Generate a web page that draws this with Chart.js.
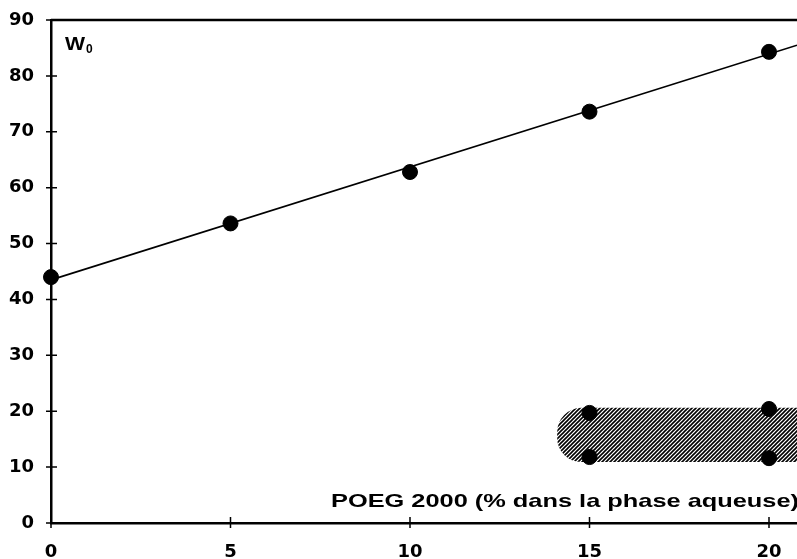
<!DOCTYPE html>
<html>
<head>
<meta charset="utf-8">
<script src="https://cdn.jsdelivr.net/npm/chart.js@4/dist/chart.umd.min.js"></script>
<style>
  body { margin: 0; background: #fff; }
  canvas { display: block; }
</style>
</head>
<body>
<canvas id="grafico" width="797" height="559"></canvas>
<script>
// valeurs
var poegX = [0, 5, 10, 15, 20];
var w0Y = [44.0, 53.6, 62.8, 73.6, 84.3];
var basX = [15, 15, 20, 20];
var basY = [19.7, 11.8, 20.4, 11.6];
var droiteX = [0, 20.78];
var droiteY = [43.5, 85.5];
var zoneX = [14.1, 20.78];
var zoneY = [10.9, 20.6];
var ticksX = [0, 5, 10, 15, 20];
var ticksY = [0, 10, 20, 30, 40, 50, 60, 70, 80, 90];

var police = "'Liberation Sans', Arial, sans-serif";
var policeLarge = "'DejaVu Sans', sans-serif";

function paires(xs, ys) {
    return xs.map(function (x, i) { return { x: x, y: ys[i] }; });
}

function motifHachure() {
    var c = document.createElement("canvas");
    c.width = 4; c.height = 4;
    var g = c.getContext("2d");
    g.strokeStyle = "#000";
    g.lineWidth = 1.6;
    g.beginPath();
    g.moveTo(-1, 5); g.lineTo(5, -1);
    g.moveTo(-1, 1); g.lineTo(1, -1);
    g.moveTo(3, 5); g.lineTo(5, 3);
    g.stroke();
    return g.createPattern(c, "repeat");
}

// texte elargi horizontalement (la police d'origine est tres large)
function texteLarge(ctx, txt, x, y, etir) {
    ctx.save();
    ctx.translate(x, y);
    ctx.scale(etir, 1);
    ctx.fillText(txt, 0, 0);
    ctx.restore();
}

var decor = {
    id: "decor",
    beforeDatasetsDraw: function (chart) {
        var ctx = chart.ctx, sx = chart.scales.x, sy = chart.scales.y;
        // zone hachuree
        var x0 = sx.getPixelForValue(zoneX[0]), x1 = sx.getPixelForValue(zoneX[1]);
        var y0 = sy.getPixelForValue(zoneY[1]), y1 = sy.getPixelForValue(zoneY[0]);
        ctx.save();
        ctx.fillStyle = motifHachure();
        ctx.beginPath();
        ctx.roundRect(x0, y0, x1 - x0 + 5, y1 - y0, [24, 0, 0, 24]);
        ctx.fill();
        ctx.restore();
    },
    afterDraw: function (chart) {
        var ctx = chart.ctx, a = chart.chartArea, sx = chart.scales.x, sy = chart.scales.y;
        ctx.save();
        ctx.strokeStyle = "#000";
        // cadre haut
        ctx.lineWidth = 2.5;
        ctx.beginPath();
        ctx.moveTo(a.left, a.top); ctx.lineTo(a.right + 2, a.top);
        ctx.stroke();
        // graduations qui traversent les axes
        ctx.lineWidth = 1.5;
        ctx.beginPath();
        ticksY.forEach(function (v) {
            var y = sy.getPixelForValue(v);
            ctx.moveTo(a.left - 5, y); ctx.lineTo(a.left + 6, y);
        });
        ticksX.forEach(function (v) {
            var x = sx.getPixelForValue(v);
            ctx.moveTo(x, a.bottom - 6); ctx.lineTo(x, a.bottom + 5);
        });
        ctx.stroke();
        // textes
        ctx.fillStyle = "#000";
        ctx.textBaseline = "alphabetic";
        ctx.textAlign = "left";
        ctx.font = "bold 18px " + police;
        var wW = ctx.measureText("W").width * 1.18;
        texteLarge(ctx, "W", a.left + 14, a.top + 30, 1.18);
        ctx.font = "bold 12px " + police;
        ctx.fillText("0", a.left + 15 + wW, a.top + 33);
        ctx.font = "bold 19px " + police;
        var titre = "POEG 2000 (% dans la phase aqueuse)";
        var etir = 468 / ctx.measureText(titre).width;
        texteLarge(ctx, titre, a.right - 466, a.bottom - 16, etir);
        ctx.restore();
    }
};

new Chart(grafico.getContext("2d"), {
    type: "scatter",
    data: {
        datasets: [{
            type: "line",
            data: paires(droiteX, droiteY),
            borderColor: "#000",
            borderWidth: 1.6,
            pointRadius: 0,
            fill: false,
            clip: false
        }, {
            data: paires(poegX, w0Y),
            backgroundColor: "#000",
            borderColor: "#000",
            pointRadius: 7.5,
            clip: false
        }, {
            data: paires(basX, basY),
            backgroundColor: "#000",
            borderColor: "#000",
            pointRadius: 7.5,
            clip: false
        }]
    },
    options: {
        responsive: false,
        animation: false,
        devicePixelRatio: 1,
        layout: { autoPadding: false, padding: { top: 20, right: 0, left: 0, bottom: 0 } },
        plugins: {
            legend: { display: false },
            tooltip: { enabled: false }
        },
        scales: {
            x: {
                type: "linear",
                min: 0,
                max: 20.78,
                afterBuildTicks: function (s) { s.ticks = ticksX.map(function (v) { return { value: v }; }); },
                afterFit: function (s) { s.height = 36; s.paddingLeft = 0; s.paddingRight = 0; },
                grid: { display: false },
                border: { display: true, color: "#000", width: 2.5 },
                ticks: {
                    color: "#000",
                    padding: 11,
                    maxRotation: 0,
                    font: { family: policeLarge, size: 18, weight: "bold" }
                }
            },
            y: {
                min: 0,
                max: 90,
                afterBuildTicks: function (s) { s.ticks = ticksY.map(function (v) { return { value: v }; }); },
                afterFit: function (s) { s.width = 51; s.paddingTop = 0; s.paddingBottom = 0; },
                grid: { display: false },
                border: { display: true, color: "#000", width: 2.5 },
                ticks: {
                    color: "#000",
                    padding: 9,
                    font: { family: policeLarge, size: 18, weight: "bold" }
                }
            }
        }
    },
    plugins: [decor]
});
</script>
</body>
</html>
